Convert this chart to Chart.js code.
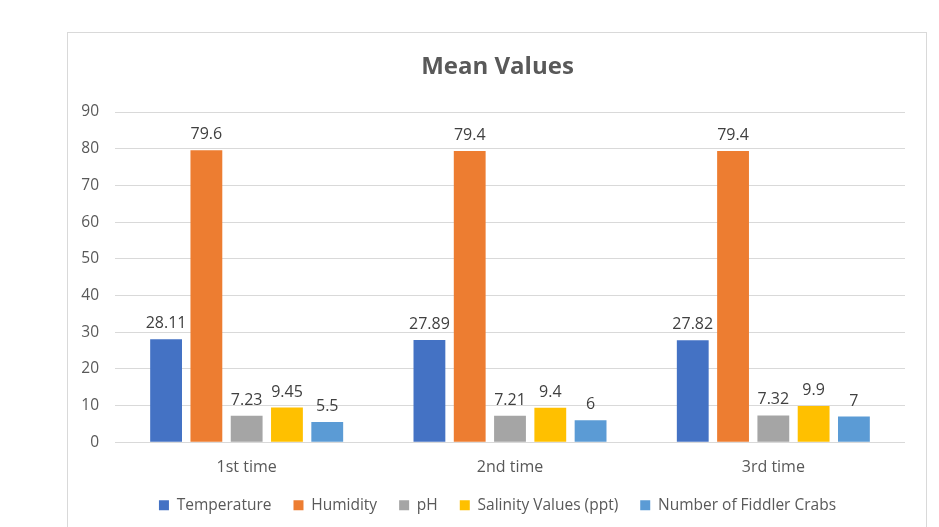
<!DOCTYPE html>
<html>
<head>
<meta charset="utf-8">
<title>Mean Values</title>
<script src="https://cdn.jsdelivr.net/npm/chart.js@4/dist/chart.umd.min.js"></script>
<style>
  html, body { margin: 0; padding: 0; background: #ffffff; overflow: hidden; }
  #wrap { position: absolute; left: 0; top: 0; width: 939px; height: 527px; }
</style>
</head>
<body>
<div id="wrap"><canvas id="chart" width="939" height="527"></canvas></div>
<script>
// Sampling rounds
const categories = ['1st time', '2nd time', '3rd time'];

// Mean values per series
const temperature = [28.11, 27.89, 27.82];
const humidity = [79.6, 79.4, 79.4];
const pH = [7.23, 7.21, 7.32];
const salinity = [9.45, 9.4, 9.9];
const fiddlerCrabs = [5.5, 6, 7];

// Value axis
const yMin = 0;
const yMax = 90;
const yStep = 10;

const FONT = '"Open Sans", "Liberation Sans", sans-serif';

// Frame around the whole chart
const framePlugin = {
  id: 'frame',
  beforeDraw(chart) {
    const ctx = chart.ctx;
    ctx.save();
    ctx.fillStyle = '#ffffff';
    ctx.fillRect(0, 0, chart.width, chart.height);
    ctx.strokeStyle = '#d9d9d9';
    ctx.lineWidth = 1;
    ctx.strokeRect(67.5, 32.5, 859, 600);
    ctx.restore();
  }
};

// Value labels above each bar
const valueLabelPlugin = {
  id: 'valueLabels',
  afterDatasetsDraw(chart) {
    const ctx = chart.ctx;
    ctx.save();
    ctx.font = '16px ' + FONT;
    ctx.fillStyle = '#404040';
    ctx.textAlign = 'center';
    ctx.textBaseline = 'alphabetic';
    chart.data.datasets.forEach((ds, i) => {
      const meta = chart.getDatasetMeta(i);
      meta.data.forEach((bar, j) => {
        ctx.fillText(String(ds.data[j]), bar.x, bar.y - 11);
      });
    });
    ctx.restore();
  }
};

const series = [
  { label: 'Temperature', data: temperature, color: '#4472c4' },
  { label: 'Humidity', data: humidity, color: '#ed7d31' },
  { label: 'pH', data: pH, color: '#a5a5a5' },
  { label: 'Salinity Values (ppt)', data: salinity, color: '#ffc000' },
  { label: 'Number of Fiddler Crabs', data: fiddlerCrabs, color: '#5b9bd5' }
];

new Chart(document.getElementById('chart'), {
  type: 'bar',
  data: {
    labels: categories,
    datasets: series.map(s => ({
      label: s.label,
      data: s.data,
      backgroundColor: s.color,
      borderWidth: 0,
      categoryPercentage: 0.765,
      barPercentage: 0.79,
      yAxisID: 'y'
    }))
  },
  options: {
    responsive: false,
    animation: false,
    devicePixelRatio: 1,
    layout: { padding: { left: 68, right: 12, top: 32, bottom: 4 } },
    plugins: {
      title: {
        display: true,
        text: 'Mean Values',
        color: '#595959',
        font: { family: FONT, size: 24, weight: 'bold' },
        padding: { top: 21, bottom: 30.2 }
      },
      legend: {
        position: 'bottom',
        labels: {
          color: '#595959',
          font: { family: FONT, size: 15.5 },
          boxWidth: 10,
          boxHeight: 10,
          padding: 22
        }
      },
      tooltip: { enabled: false }
    },
    scales: {
      x: {
        grid: { display: false, drawTicks: false },
        border: { display: false },
        ticks: {
          color: '#595959',
          font: { family: FONT, size: 16 },
          padding: 15.5
        },
        afterFit(scale) { scale.height = 33.2; }
      },
      y: {
        min: yMin,
        max: yMax,
        grid: { color: '#d9d9d9', lineWidth: 1, drawTicks: false },
        border: { display: false },
        ticks: {
          stepSize: yStep,
          color: '#595959',
          font: { family: FONT, size: 15.5 },
          padding: 16
        },
        afterFit(scale) { scale.width = 47; }
      },
      y2: {
        type: 'linear',
        position: 'right',
        grid: { display: false, drawTicks: false },
        border: { display: false },
        ticks: { display: false },
        afterFit(scale) { scale.width = 22; }
      }
    }
  },
  plugins: [framePlugin, valueLabelPlugin]
});
</script>
</body>
</html>
